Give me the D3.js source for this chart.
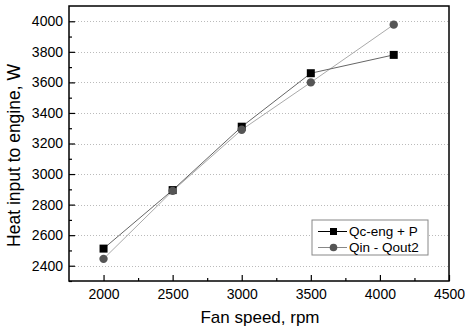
<!DOCTYPE html>
<html>
<head>
<meta charset="utf-8">
<script src="https://cdn.jsdelivr.net/npm/d3@7"></script>
<style>
  body { margin: 0; background: #fff; }
  text { font-family: "Liberation Sans", Arial, sans-serif; }
</style>
</head>
<body>
<script>
// fan speed (rpm) and heat input (W)
var fanSpeed = [2000, 2500, 3000, 3500, 4100];
var qcEngP = [2512, 2895, 3310, 3660, 3780];
var qinQout2 = [2445, 2890, 3290, 3600, 3978];
var xTicks = [2000, 2500, 3000, 3500, 4000, 4500];
var yTicks = [2400, 2600, 2800, 3000, 3200, 3400, 3600, 3800, 4000];
var seriesNames = ["Qc-eng + P", "Qin - Qout2"];

var W = 465, H = 331;
var m = {left: 69, top: 6, right: 449, bottom: 281};

var svg = d3.select("body").append("svg")
  .attr("width", W).attr("height", H);

var x = d3.scaleLinear().domain([1750, 4500]).range([m.left, m.right]);
var y = d3.scaleLinear().domain([2300, 4100]).range([m.bottom, m.top]);

// dotted grid
svg.append("g").selectAll("line")
  .data(yTicks).enter().append("line")
  .attr("x1", m.left).attr("x2", m.right)
  .attr("y1", function(d) { return Math.round(y(d)) + 0.5; })
  .attr("y2", function(d) { return Math.round(y(d)) + 0.5; })
  .style("stroke", "#bbb")
  .style("stroke-width", 1)
  .style("stroke-dasharray", "1,2");

// axes, ticks pointing inward
var xAxis = svg.append("g")
  .attr("transform", "translate(0," + m.bottom + ")")
  .call(d3.axisBottom(x).tickValues(xTicks).tickSize(-6).tickPadding(8).tickFormat(d3.format("d")));
var xMinor = svg.append("g")
  .attr("transform", "translate(0," + m.bottom + ")")
  .call(d3.axisBottom(x).tickValues(d3.range(2250, 4500, 500)).tickSize(-3).tickFormat(""));
var yAxis = svg.append("g")
  .attr("transform", "translate(" + m.left + ",0)")
  .call(d3.axisLeft(y).tickValues(yTicks).tickSize(-6).tickPadding(6).tickFormat(d3.format("d")));
var yMinor = svg.append("g")
  .attr("transform", "translate(" + m.left + ",0)")
  .call(d3.axisLeft(y).tickValues(d3.range(2300, 4100, 200)).tickSize(-3).tickFormat(""));

[xAxis, xMinor, yAxis, yMinor].forEach(function(g) {
  g.select(".domain").remove();
  g.selectAll("line").style("stroke", "#000").style("stroke-width", 1.2);
  g.selectAll("text").style("font-size", "14px").style("fill", "#000")
    .style("font-family", "Liberation Sans, Arial, sans-serif");
});

// frame
svg.append("rect")
  .attr("x", m.left).attr("y", m.top)
  .attr("width", m.right - m.left).attr("height", m.bottom - m.top)
  .style("fill", "none").style("stroke", "#000").style("stroke-width", 1.5);

var line = d3.line()
  .x(function(d, i) { return x(fanSpeed[i]); })
  .y(function(d) { return y(d); });

svg.append("path").datum(qinQout2).attr("d", line)
  .style("fill", "none").style("stroke", "#aaa").style("stroke-width", 1);
svg.append("path").datum(qcEngP).attr("d", line)
  .style("fill", "none").style("stroke", "#666").style("stroke-width", 1);

svg.append("g").selectAll("rect").data(qcEngP).enter().append("rect")
  .attr("x", function(d, i) { return x(fanSpeed[i]) - 4; })
  .attr("y", function(d) { return y(d) - 4; })
  .attr("width", 8).attr("height", 8)
  .style("fill", "#000");
svg.append("g").selectAll("circle").data(qinQout2).enter().append("circle")
  .attr("cx", function(d, i) { return x(fanSpeed[i]); })
  .attr("cy", function(d) { return y(d); })
  .attr("r", 4.2)
  .style("fill", "#555");

// legend
var lg = svg.append("g").attr("transform", "translate(312,220)");
lg.append("rect").attr("width", 116).attr("height", 35)
  .style("fill", "#fff").style("stroke", "#888").style("stroke-width", 1);
seriesNames.forEach(function(name, i) {
  var ly = 11.5 + i * 16;
  lg.append("line").attr("x1", 6).attr("x2", 35).attr("y1", ly).attr("y2", ly)
    .style("stroke", i == 0 ? "#000" : "#888").style("stroke-width", 1);
  if (i == 0)
    lg.append("rect").attr("x", 18).attr("y", ly - 3.5).attr("width", 7).attr("height", 7).style("fill", "#000");
  else
    lg.append("circle").attr("cx", 21.5).attr("cy", ly).attr("r", 3.8).style("fill", "#555");
  lg.append("text").attr("x", 37).attr("y", ly + 4.5).text(name)
    .style("font-size", "13.5px").style("fill", "#000");
});

// axis titles
svg.append("text")
  .attr("x", (m.left + m.right) / 2 + 1).attr("y", 323)
  .attr("text-anchor", "middle")
  .style("font-size", "17px").text("Fan speed, rpm");
svg.append("text")
  .attr("transform", "translate(20," + ((m.top + m.bottom) / 2 + 12) + ") rotate(-90)")
  .attr("text-anchor", "middle")
  .style("font-size", "17.5px").text("Heat input to engine, W");
</script>
</body>
</html>
